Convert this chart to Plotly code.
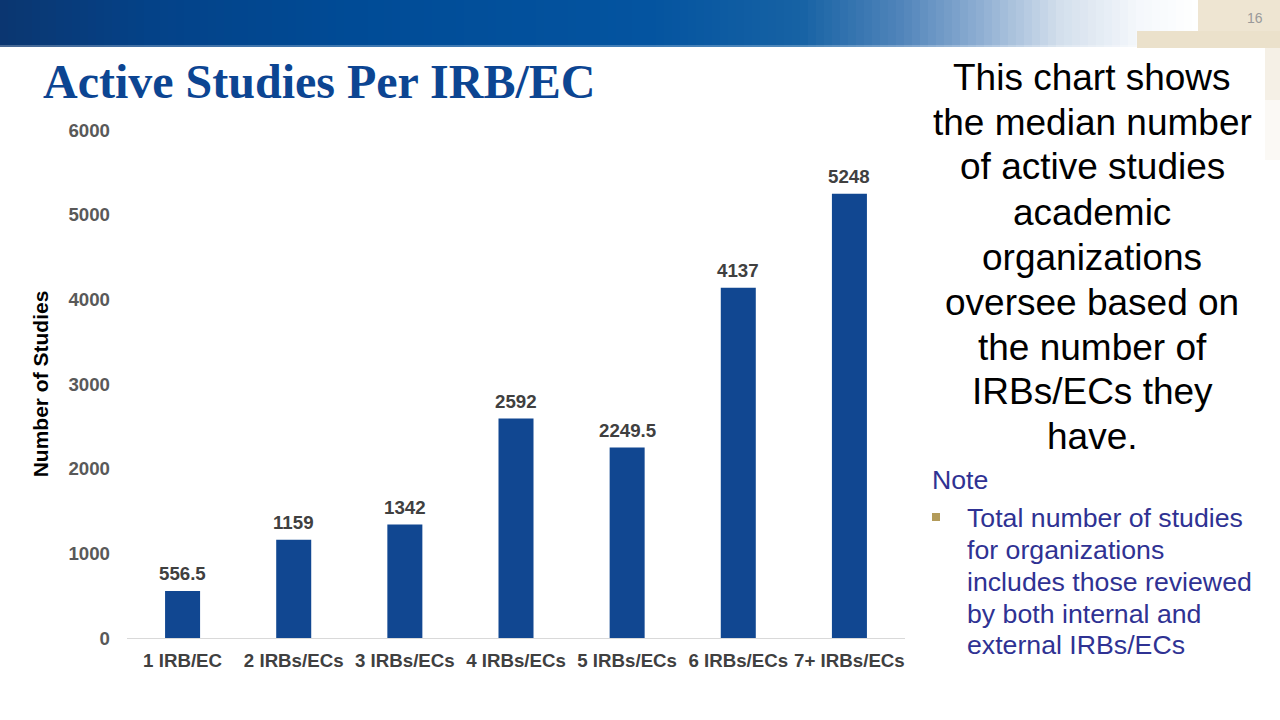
import plotly.graph_objects as go

# ---------------- data ----------------
categories = ["1 IRB/EC", "2 IRBs/ECs", "3 IRBs/ECs", "4 IRBs/ECs",
              "5 IRBs/ECs", "6 IRBs/ECs", "7+ IRBs/ECs"]
median_studies = [556.5, 1159, 1342, 2592, 2249.5, 4137, 5248]
value_labels = ["556.5", "1159", "1342", "2592", "2249.5", "4137", "5248"]
y_ticks = [0, 1000, 2000, 3000, 4000, 5000, 6000]

title_text = "Active Studies Per IRB/EC"
side_lines = ["This chart shows", "the median number", "of active studies",
              "academic", "organizations", "oversee based on",
              "the number of", "IRBs/ECs they", "have."]
note_lines = ["Total number of studies", "for organizations",
              "includes those reviewed", "by both internal and",
              "external IRBs/ECs"]

# ---------------- layout geometry ----------------
FW, FH = 1280, 720
L, R, T, B = 127, 375, 130, 82
PW, PH = FW - L - R, FH - T - B


def px_x(x):
    return (x - L) / PW


def px_y(y):
    return (FH - B - y) / PH


SANS = "Liberation Sans, Arial, sans-serif"
SERIF = "Liberation Serif, Times New Roman, serif"

fig = go.Figure()
fig.add_trace(go.Bar(
    x=categories, y=median_studies,
    marker=dict(color="#114791", line=dict(width=0)),
    hoverinfo="x+y",
))

shapes = []
# banner gradient
stops = [(0, (11, 54, 112)), (150, (4, 66, 136)), (350, (0, 75, 150)),
         (650, (4, 84, 160)), (800, (22, 98, 164)), (900, (80, 132, 186)),
         (980, (142, 174, 210)), (1060, (211, 223, 236)),
         (1140, (245, 248, 252)), (1200, (255, 255, 255))]


def col_at(x):
    for (x0, c0), (x1, c1) in zip(stops[:-1], stops[1:]):
        if x0 <= x <= x1:
            f = (x - x0) / (x1 - x0)
            return tuple(int(round(a + (b - a) * f)) for a, b in zip(c0, c1))
    return stops[-1][1]


step = 8
for x in range(0, 1200, step):
    c = col_at(x + step / 2)
    shapes.append(dict(type="rect", xref="paper", yref="paper",
                       x0=px_x(x), x1=px_x(x + step + 0.5), y0=px_y(45), y1=px_y(0),
                       fillcolor="rgb(%d,%d,%d)" % c, line=dict(width=0), layer="below"))
    lc = tuple(int(v + (255 - v) * 0.25) for v in c)
    shapes.append(dict(type="rect", xref="paper", yref="paper",
                       x0=px_x(x), x1=px_x(x + step + 0.5), y0=px_y(47), y1=px_y(45),
                       fillcolor="rgb(%d,%d,%d)" % lc, line=dict(width=0), layer="below"))

# beige corner decoration
beige = [(1198, 1280, 0, 31, "#eee5d2"), (1137, 1280, 31, 48, "#ebe1cb"),
         (1265, 1280, 48, 100, "#f5f0e6"), (1265, 1280, 100, 160, "#fbf9f5")]
for x0, x1, y0, y1, c in beige:
    shapes.append(dict(type="rect", xref="paper", yref="paper",
                       x0=px_x(x0), x1=px_x(x1), y0=px_y(y1), y1=px_y(y0),
                       fillcolor=c, line=dict(width=0), layer="below"))

# note bullet
shapes.append(dict(type="rect", xref="paper", yref="paper",
                   x0=px_x(932), x1=px_x(940), y0=px_y(521), y1=px_y(513),
                   fillcolor="#b39b5a", line=dict(width=0)))

annotations = []
# value labels above bars, positioned by the data axes
for cat, val, lab in zip(categories, median_studies, value_labels):
    annotations.append(dict(text="<b>" + lab + "</b>", xref="x", yref="y",
                            x=cat, y=val, xanchor="center", yanchor="middle",
                            yshift=17, showarrow=False,
                            font=dict(family=SANS, size=18.7, color="#404040")))

annotations.append(dict(text="<b>" + title_text + "</b>", xref="paper", yref="paper",
                        x=px_x(41), y=px_y(82), xanchor="left", yanchor="middle",
                        showarrow=False, font=dict(family=SERIF, size=48, color="#0c4592")))
annotations.append(dict(text="16", xref="paper", yref="paper",
                        x=px_x(1255), y=px_y(18), xanchor="center", yanchor="middle",
                        showarrow=False, font=dict(family=SANS, size=14, color="#9a9a9a")))

side_y = [78, 122, 166, 212, 257, 302, 347, 391, 436]
for txt, yy in zip(side_lines, side_y):
    annotations.append(dict(text=txt, xref="paper", yref="paper",
                            x=px_x(1092), y=px_y(yy), xanchor="center", yanchor="middle",
                            showarrow=False, font=dict(family=SANS, size=37, color="#000000")))

annotations.append(dict(text="Note", xref="paper", yref="paper",
                        x=px_x(930), y=px_y(480), xanchor="left", yanchor="middle",
                        showarrow=False, font=dict(family=SANS, size=26.7, color="#2f3293")))
note_y = [518, 550, 582, 614, 645]
for txt, yy in zip(note_lines, note_y):
    annotations.append(dict(text=txt, xref="paper", yref="paper",
                            x=px_x(965), y=px_y(yy), xanchor="left", yanchor="middle",
                            showarrow=False, font=dict(family=SANS, size=26.7, color="#2f3293")))

fig.update_layout(
    width=FW, height=FH,
    margin=dict(l=L, r=R, t=T, b=B, autoexpand=False),
    paper_bgcolor="white", plot_bgcolor="white",
    showlegend=False, bargap=0.685,
    shapes=shapes, annotations=annotations,
    font=dict(family=SANS),
)
fig.update_xaxes(
    showgrid=False, showline=True, linecolor="#d9d9d9", linewidth=1,
    ticks="", ticklabelstandoff=6,
    tickfont=dict(family=SANS, size=18.7, color="#404040", weight="bold"),
    automargin=False,
)
fig.update_yaxes(
    range=[0, 6000], tickvals=y_ticks, showgrid=False, zeroline=False,
    showline=False, ticks="", ticklabelstandoff=16,
    tickfont=dict(family=SANS, size=18.7, color="#595959", weight="bold"),
    title=dict(text="Number of Studies", standoff=14,
               font=dict(family=SANS, size=21, color="#000000", weight="bold")),
    automargin=False,
)

fig.write_html("out.html")
